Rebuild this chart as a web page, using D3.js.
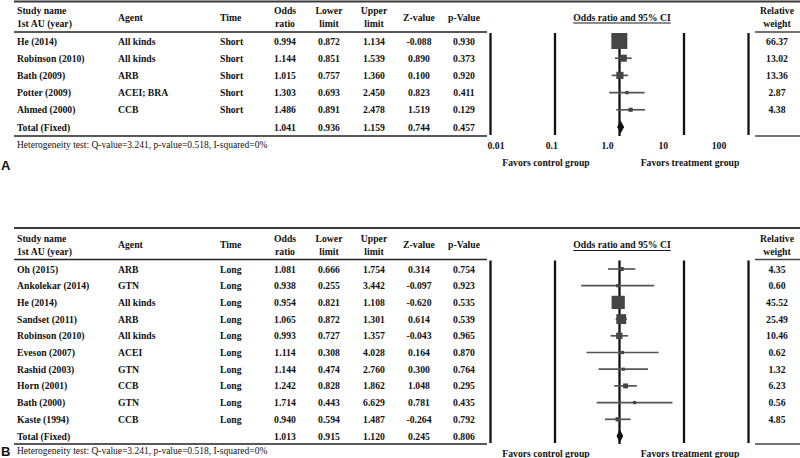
<!DOCTYPE html>
<html>
<head>
<meta charset="utf-8">
<script src="https://cdn.jsdelivr.net/npm/d3@7"></script>
<style>
  html, body { margin: 0; padding: 0; background: #fff; }
  svg { display: block; }
  text { font-family: "Liberation Serif", "Times New Roman", serif; fill: #111; }
</style>
</head>
<body>
<svg id="chart" width="800" height="458"></svg>
<script>
// ---------- Panel A data (short-term) ----------
const studiesA = ["He (2014)", "Robinson (2010)", "Bath (2009)", "Potter (2009)", "Ahmed (2000)"];
const agentsA  = ["All kinds", "All kinds", "ARB", "ACEI; BRA", "CCB"];
const timeA    = ["Short", "Short", "Short", "Short", "Short"];
const orA      = [0.994, 1.144, 1.015, 1.303, 1.486];
const lowerA   = [0.872, 0.851, 0.757, 0.693, 0.891];
const upperA   = [1.134, 1.539, 1.360, 2.450, 2.478];
const zA       = [-0.088, 0.890, 0.100, 0.823, 1.519];
const pA       = [0.930, 0.373, 0.920, 0.411, 0.129];
const weightA  = [66.37, 13.02, 13.36, 2.87, 4.38];
const totalA   = [1.041, 0.936, 1.159, 0.744, 0.457]; // OR, lower, upper, Z, p

// ---------- Panel B data (long-term) ----------
const studiesB = ["Oh (2015)", "Ankolekar (2014)", "He (2014)", "Sandset (2011)", "Robinson (2010)",
                  "Eveson (2007)", "Rashid (2003)", "Horn (2001)", "Bath (2000)", "Kaste (1994)"];
const agentsB  = ["ARB", "GTN", "All kinds", "ARB", "All kinds", "ACEI", "GTN", "CCB", "GTN", "CCB"];
const timeB    = ["Long", "Long", "Long", "Long", "Long", "Long", "Long", "Long", "Long", "Long"];
const orB      = [1.081, 0.938, 0.954, 1.065, 0.993, 1.114, 1.144, 1.242, 1.714, 0.940];
const lowerB   = [0.666, 0.255, 0.821, 0.872, 0.727, 0.308, 0.474, 0.828, 0.443, 0.594];
const upperB   = [1.754, 3.442, 1.108, 1.301, 1.357, 4.028, 2.760, 1.862, 6.629, 1.487];
const zB       = [0.314, -0.097, -0.620, 0.614, -0.043, 0.164, 0.300, 1.048, 0.781, -0.264];
const pB       = [0.754, 0.923, 0.535, 0.539, 0.965, 0.870, 0.764, 0.295, 0.435, 0.792];
const weightB  = [4.35, 0.60, 45.52, 25.49, 10.46, 0.62, 1.32, 6.23, 0.56, 4.85];
const totalB   = [1.013, 0.915, 1.120, 0.245, 0.806];

// ---------- shared text ----------
const tickValues = [0.01, 0.1, 1, 10, 100];
const tickLabels = ["0.01", "0.1", "1.0", "10", "100"];
const heterogeneityText = "Heterogeneity test: Q-value=3.241, p-value=0.518, I-squared=0%";
const favorsLabels = ["Favors control group", "Favors treatment group"];

const svg = d3.select("#chart");
const locale = d3.formatLocale({decimal: ".", thousands: ",", grouping: [3], currency: ["", ""], minus: "-"});
const fmt3 = locale.format(".3f");
const fmt2 = locale.format(".2f");

// forest x scale (log) and label scale
const x = d3.scaleLog().domain([0.01, 100]).range([490.5, 748.5]);
const xLabel = d3.scaleLog().domain([0.01, 100]).range([496, 719]);
// marker size scale (side length proportional to sqrt(weight))
const size = d3.scaleSqrt().domain([0, 100]).range([0, 19.6]);

// column positions
const cols = {
  study: 17, agent: 118, time: 220,
  or: 285, lower: 329, upper: 374, z: 419, p: 464,
  weight: 777, title: 622
};

function drawPanel(cfg) {
  const g = svg.append("g");
  const n = cfg.studies.length;
  const rowIdx = d3.range(n + 1);
  const y = d3.scalePoint().domain(rowIdx).range([cfg.firstRow, cfg.lastRow]);
  const fs = 9.7;

  // rules
  g.append("line").attr("x1", 14).attr("x2", 800).attr("y1", cfg.top).attr("y2", cfg.top)
    .attr("stroke", "#3a3a3a").attr("stroke-width", 2);
  [cfg.headRule, cfg.bottomRule].forEach(yy => {
    g.append("line").attr("x1", 14).attr("x2", 487).attr("y1", yy).attr("y2", yy)
      .attr("stroke", "#222").attr("stroke-width", 1.6);
    g.append("line").attr("x1", 755).attr("x2", 800).attr("y1", yy).attr("y2", yy)
      .attr("stroke", "#444").attr("stroke-width", 1.6);
  });

  // headers
  const hy1 = cfg.hc - 6.5, hy2 = cfg.hc + 6.5;
  const header = (txt, xx, yy, anchor) => g.append("text").attr("x", xx).attr("y", yy)
    .attr("dominant-baseline", "central").attr("text-anchor", anchor || "start")
    .attr("font-size", fs).attr("font-weight", "bold").text(txt);
  header("Study name", cols.study, hy1);
  header("1st AU (year)", cols.study, hy2);
  header("Agent", cols.agent, cfg.hc);
  header("Time", cols.time, cfg.hc);
  header("Odds", cols.or, hy1, "middle"); header("ratio", cols.or, hy2, "middle");
  header("Lower", cols.lower, hy1, "middle"); header("limit", cols.lower, hy2, "middle");
  header("Upper", cols.upper, hy1, "middle"); header("limit", cols.upper, hy2, "middle");
  header("Z-value", cols.z, cfg.hc, "middle");
  header("p-Value", cols.p, cfg.hc, "middle");
  header("Relative", cols.weight, hy1, "middle"); header("weight", cols.weight, hy2, "middle");
  header("Odds ratio and 95% CI", cols.title, cfg.hc, "middle").attr("text-decoration", "underline");

  // rows
  const rows = cfg.studies.map((s, i) => ({
    study: s, agent: cfg.agents[i], time: cfg.time[i], or: cfg.or[i], lo: cfg.lower[i],
    hi: cfg.upper[i], z: cfg.z[i], p: cfg.p[i], w: cfg.weight[i], i: i
  }));
  const cell = (txt, xx, yy, anchor) => g.append("text").attr("x", xx).attr("y", yy)
    .attr("dominant-baseline", "central").attr("text-anchor", anchor || "start")
    .attr("font-size", fs).attr("font-weight", "bold").text(txt);
  rows.forEach(r => {
    const yy = y(r.i);
    cell(r.study, cols.study, yy);
    cell(r.agent, cols.agent, yy);
    cell(r.time, cols.time, yy);
    cell(fmt3(r.or), cols.or, yy, "middle");
    cell(fmt3(r.lo), cols.lower, yy, "middle");
    cell(fmt3(r.hi), cols.upper, yy, "middle");
    cell(fmt3(r.z), cols.z, yy, "middle");
    cell(fmt3(r.p), cols.p, yy, "middle");
    cell(fmt2(r.w), cols.weight, yy, "middle");
  });
  const ty = y(n);
  cell("Total (Fixed)", cols.study, ty);
  [cols.or, cols.lower, cols.upper, cols.z, cols.p].forEach((cx, k) => cell(fmt3(cfg.total[k]), cx, ty, "middle"));

  // forest vertical lines
  tickValues.forEach(v => {
    g.append("line").attr("x1", x(v)).attr("x2", x(v))
      .attr("y1", cfg.headRule + 1).attr("y2", v === 1 ? cfg.bottomRule : cfg.bottomRule - 1)
      .attr("stroke", "#111").attr("stroke-width", 2.3);
  });

  // CI lines and markers
  rows.forEach(r => {
    const yy = y(r.i);
    g.append("line").attr("x1", x(r.lo)).attr("x2", x(r.hi)).attr("y1", yy).attr("y2", yy)
      .attr("stroke", "#555").attr("stroke-width", 1.7);
    const s = Math.max(3.2, size(r.w));
    g.append("rect").attr("x", x(r.or) - s / 2).attr("y", yy - s / 2)
      .attr("width", s).attr("height", s).attr("fill", "#454545");
  });
  // diamond
  const dh = 5.5;
  g.append("path").attr("d", `M${x(cfg.total[1])},${ty} L${x(cfg.total[0])},${ty - dh} L${x(cfg.total[2])},${ty} L${x(cfg.total[0])},${ty + dh} Z`)
    .attr("fill", "#111").attr("stroke", "#111").attr("stroke-width", 1);

  // tick labels
  if (cfg.showTicks) {
    tickValues.forEach((v, k) => {
      g.append("text").attr("x", xLabel(v)).attr("y", cfg.footer).attr("dominant-baseline", "central")
        .attr("text-anchor", "middle").attr("font-size", fs).attr("font-weight", "bold").text(tickLabels[k]);
    });
  }
  // footer
  g.append("text").attr("x", cols.study).attr("y", cfg.footer).attr("dominant-baseline", "central")
    .attr("font-size", 9.5).text(heterogeneityText);
  g.append("text").attr("x", 546).attr("y", cfg.favors).attr("dominant-baseline", "central")
    .attr("text-anchor", "middle").attr("font-size", fs).attr("font-weight", "bold").text(favorsLabels[0]);
  g.append("text").attr("x", 690).attr("y", cfg.favors).attr("dominant-baseline", "central")
    .attr("text-anchor", "middle").attr("font-size", fs).attr("font-weight", "bold").text(favorsLabels[1]);
  // panel letter
  g.append("text").attr("x", 1).attr("y", cfg.letterY).attr("dominant-baseline", "central")
    .style("font-family", "'Liberation Sans', Arial, sans-serif").attr("font-size", 13)
    .attr("font-weight", "bold").text(cfg.letter);
}

drawPanel({
  studies: studiesA, agents: agentsA, time: timeA, or: orA, lower: lowerA, upper: upperA,
  z: zA, p: pA, weight: weightA, total: totalA,
  top: 1.5, hc: 17, headRule: 32, firstRow: 41, lastRow: 127, bottomRule: 136,
  footer: 145, favors: 162, letterY: 165, letter: "A", showTicks: true
});
drawPanel({
  studies: studiesB, agents: agentsB, time: timeB, or: orB, lower: lowerB, upper: upperB,
  z: zB, p: pB, weight: weightB, total: totalB,
  top: 228, hc: 244.5, headRule: 259.5, firstRow: 269, lastRow: 436, bottomRule: 444,
  footer: 451, favors: 453, letterY: 451, letter: "B", showTicks: false
});
</script>
</body>
</html>
